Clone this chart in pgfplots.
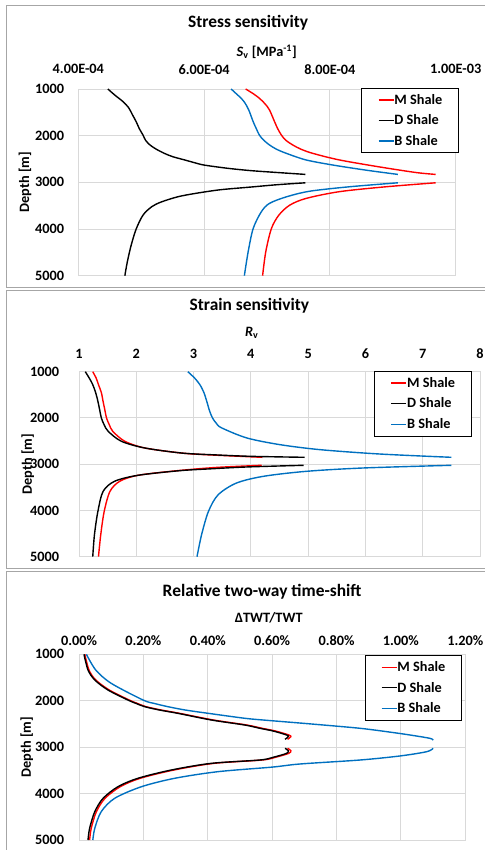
\documentclass[border=0pt]{standalone}
\usepackage{fontspec}
\setmainfont{Carlito}
\usepackage{pgfplots}
\pgfplotsset{compat=1.18}

\definecolor{mred}{RGB}{255,0,0}
\definecolor{bblue}{RGB}{0,112,192}
\definecolor{gridgray}{RGB}{217,217,217}
\definecolor{framegray}{RGB}{166,166,166}

\newcommand{\tfont}{\fontsize{14.3}{16}\selectfont\bfseries}
\newcommand{\hfont}{\fontsize{17.4}{20}\selectfont\bfseries}

\pgfplotsset{
  curve/.style={line width=1.4pt, smooth, tension=0.5},
  depthaxis/.style={
    scale only axis, anchor=north west,
    y dir=reverse, ymin=1000, ymax=5000, ytick={1000,2000,3000,4000,5000},
    xticklabel pos=top, major tick length=0pt,
    grid=major, grid style={gridgray, line width=0.9pt},
    axis line style={gridgray, line width=0.9pt},
    tick label style={font=\tfont},
    label style={font=\tfont},
    yticklabel style={anchor=east, inner sep=0pt},
    xticklabel style={anchor=center, inner sep=0pt},
    /pgf/number format/assume math mode=true,
    /pgf/number format/1000 sep={},
    scaled x ticks=false,
    ylabel={Depth [m]},
    legend cell align=left,
    legend style={draw=black, line width=0.9pt, fill=white, font=\tfont,
      anchor=north east, row sep=5pt, inner xsep=16pt, inner ysep=4pt,
      nodes={inner xsep=0pt}},
    legend image code/.code={\draw[#1, line width=1.4pt] (0pt,0pt) -- (15pt,0pt);},
  }
}

\begin{document}
\begin{tikzpicture}[x=1pt,y=1pt]
\useasboundingbox (0,0) rectangle (484,850);
% chart frames
\draw[framegray, line width=0.9pt] (6,845) rectangle (492,563);
\draw[framegray, line width=0.9pt] (6.5,560) rectangle (492,281.5);
\draw[framegray, line width=0.9pt] (6,278.5) rectangle (492,-4);

% ---- stress sensitivity
\begin{axis}[depthaxis,
  at={(78.3pt,761pt)}, width=377.4pt, height=186.7pt,
  xmin=4e-4, xmax=1e-3,
  xtick={4e-4,6e-4,8e-4,1e-3},
  xticklabels={4.00E-04,6.00E-04,8.00E-04,1.00E-03},
  xticklabel style={yshift=19.7pt},
  yticklabel style={xshift=-14pt},
  xlabel={\textit{S}\textsubscript{v} [MPa\textsuperscript{-1}]},
  xlabel style={at={(axis description cs:0.499,1.2)}, anchor=center},
  ylabel style={at={(axis description cs:-0.141,0.5)}, anchor=center},
  title={Stress sensitivity},
  title style={font=\hfont, at={(axis description cs:0.45,1.322)}, anchor=center},
  legend style={at={(1.008,1.007)}},
]
\addplot[mred, curve] coordinates {
  (6.66e-4,1000) (6.78e-4,1100) (6.88e-4,1200) (6.97e-4,1320) (7.04e-4,1450)
  (7.12e-4,1700) (7.17e-4,1850) (7.23e-4,1990) (7.30e-4,2100) (7.41e-4,2200)
  (7.54e-4,2290) (7.73e-4,2380) (8.15e-4,2520) (8.79e-4,2670) (9.37e-4,2790)
  (9.68e-4,2830)
};
\addlegendentry{M Shale}
\addplot[black, curve] coordinates {
  (4.47e-4,1000) (4.58e-4,1130) (4.71e-4,1270) (4.80e-4,1400) (4.86e-4,1550)
  (4.92e-4,1700) (4.97e-4,1850) (5.03e-4,1990) (5.07e-4,2100) (5.14e-4,2200)
  (5.24e-4,2290) (5.37e-4,2380) (5.50e-4,2450) (5.69e-4,2520) (5.85e-4,2580)
  (6.00e-4,2630) (6.38e-4,2700) (6.75e-4,2750) (7.17e-4,2790) (7.61e-4,2830)
};
\addlegendentry{D Shale}
\addplot[bblue, curve] coordinates {
  (6.43e-4,1000) (6.51e-4,1100) (6.59e-4,1200) (6.65e-4,1300) (6.71e-4,1450)
  (6.78e-4,1700) (6.83e-4,1850) (6.88e-4,1990) (6.95e-4,2100) (7.04e-4,2200)
  (7.15e-4,2290) (7.31e-4,2380) (7.62e-4,2520) (8.05e-4,2630) (8.58e-4,2740)
  (9.08e-4,2830)
};
\addlegendentry{B Shale}
\addplot[mred, curve, forget plot] coordinates {
  (9.68e-4,3010) (8.89e-4,3095) (8.15e-4,3200) (7.62e-4,3345) (7.36e-4,3490)
  (7.19e-4,3700) (7.07e-4,3990) (6.98e-4,4490) (6.93e-4,5000)
};
\addplot[black, curve, forget plot] coordinates {
  (7.61e-4,3010) (7.17e-4,3050) (6.75e-4,3100) (6.25e-4,3160) (5.85e-4,3240)
  (5.58e-4,3310) (5.32e-4,3420) (5.17e-4,3520) (5.03e-4,3700) (4.92e-4,4000)
  (4.84e-4,4350) (4.78e-4,4700) (4.74e-4,5000)
};
\addplot[bblue, curve, forget plot] coordinates {
  (9.08e-4,3010) (8.31e-4,3095) (7.68e-4,3190) (7.31e-4,3310) (7.04e-4,3450)
  (6.91e-4,3630) (6.78e-4,3990) (6.70e-4,4490) (6.64e-4,5000)
};
\end{axis}

% ---- strain sensitivity
\begin{axis}[depthaxis,
  at={(79pt,478.3pt)}, width=401pt, height=185pt,
  xmin=1, xmax=8, xtick={1,2,3,4,5,6,7,8},
  xticklabel style={yshift=18pt},
  yticklabel style={xshift=-19.7pt},
  xlabel={\textit{R}\textsubscript{v}},
  xlabel style={at={(axis description cs:0.431,1.21)}, anchor=center},
  ylabel style={at={(axis description cs:-0.128,0.5)}, anchor=center},
  title={Strain sensitivity},
  title style={font=\hfont, at={(axis description cs:0.425,1.322)}, anchor=center},
  legend style={at={(0.979,1.004)}},
]
\addplot[mred, curve] coordinates {
  (1.24,1000) (1.30,1140) (1.34,1280) (1.39,1450) (1.42,1640) (1.45,1820)
  (1.48,2000) (1.53,2150) (1.59,2290) (1.80,2505) (2.15,2650) (2.80,2760)
  (3.30,2800) (4.20,2851)
};
\addlegendentry{M Shale}
\addplot[black, curve] coordinates {
  (1.11,1000) (1.18,1140) (1.24,1280) (1.29,1450) (1.33,1640) (1.36,1820)
  (1.39,2000) (1.44,2150) (1.51,2290) (1.74,2505) (2.15,2650) (2.80,2760)
  (3.40,2800) (4.00,2830) (4.94,2851)
};
\addlegendentry{D Shale}
\addplot[bblue, curve] coordinates {
  (2.90,1000) (3.02,1140) (3.11,1280) (3.18,1450) (3.23,1640) (3.28,1850)
  (3.33,2000) (3.40,2120) (3.49,2215) (3.93,2433) (4.51,2578) (5.21,2686)
  (6.25,2780) (7.50,2851)
};
\addlegendentry{B Shale}
\addplot[mred, curve, forget plot] coordinates {
  (4.19,3024) (3.40,3070) (2.72,3140) (2.03,3240) (1.71,3370) (1.54,3590)
  (1.44,4020) (1.38,4520) (1.34,5000)
};
\addplot[black, curve, forget plot] coordinates {
  (4.92,3024) (3.93,3060) (3.30,3100) (2.76,3140) (2.03,3240) (1.62,3370)
  (1.42,3590) (1.33,4020) (1.27,4520) (1.24,5000)
};
\addplot[bblue, curve, forget plot] coordinates {
  (7.50,3024) (5.96,3082) (4.97,3154) (4.22,3262) (3.75,3407) (3.43,3660)
  (3.26,4020) (3.14,4524) (3.06,5000)
};
\end{axis}

% ---- relative two-way time-shift
\begin{axis}[depthaxis,
  at={(79pt,195.7pt)}, width=386.3pt, height=185.7pt,
  xmin=0, xmax=1.2, xtick={0,0.2,0.4,0.6,0.8,1.0,1.2},
  xticklabels={0.00\%,0.20\%,0.40\%,0.60\%,0.80\%,1.00\%,1.20\%},
  xticklabel style={yshift=13.6pt},
  yticklabel style={xshift=-14.7pt},
  xlabel={ΔTWT/TWT},
  xlabel style={at={(axis description cs:0.491,1.194)}, anchor=center},
  ylabel style={at={(axis description cs:-0.135,0.5)}, anchor=center},
  title={Relative two-way time-shift},
  title style={font=\hfont, at={(axis description cs:0.474,1.304)}, anchor=center},
  legend style={at={(0.991,0.996)}},
]
\addplot[mred, curve] coordinates {
  (0.018,1000) (0.031,1338) (0.052,1553) (0.094,1769) (0.156,1985) (0.182,2060)
  (0.208,2128) (0.255,2200) (0.312,2271) (0.417,2415) (0.521,2523) (0.569,2594)
  (0.610,2652) (0.652,2738) (0.658,2775) (0.648,2831)
};
\addlegendentry{M Shale}
\addplot[black, curve] coordinates {
  (0.0155,1000) (0.028,1338) (0.049,1553) (0.090,1769) (0.152,1985) (0.178,2060)
  (0.204,2128) (0.250,2200) (0.307,2271) (0.411,2415) (0.515,2523) (0.562,2594)
  (0.603,2652) (0.645,2738) (0.650,2775) (0.640,2831)
};
\addlegendentry{D Shale}
\addplot[bblue, curve] coordinates {
  (0.023,1000) (0.052,1338) (0.100,1625) (0.199,1985) (0.235,2060) (0.276,2128)
  (0.330,2200) (0.401,2271) (0.515,2378) (0.580,2420) (0.720,2500) (0.873,2594)
  (0.970,2680) (1.028,2738) (1.090,2810) (1.100,2850)
};
\addlegendentry{B Shale}
\addplot[mred, curve, forget plot] coordinates {
  (0.648,3025) (0.658,3076) (0.652,3133) (0.610,3219) (0.569,3277) (0.419,3349)
  (0.295,3492) (0.190,3671) (0.128,3852) (0.081,4101) (0.054,4390) (0.038,4748)
  (0.033,5000)
};
\addplot[black, curve, forget plot] coordinates {
  (0.640,3025) (0.650,3076) (0.645,3133) (0.603,3219) (0.562,3277) (0.411,3349)
  (0.287,3492) (0.183,3671) (0.121,3852) (0.075,4101) (0.049,4390) (0.033,4748)
  (0.028,5000)
};
\addplot[bblue, curve, forget plot] coordinates {
  (1.100,3025) (1.080,3098) (0.997,3190) (0.873,3277) (0.686,3363) (0.600,3430)
  (0.432,3528) (0.297,3671) (0.194,3852) (0.111,4101) (0.069,4390) (0.049,4748)
  (0.043,5000)
};
\end{axis}
\end{tikzpicture}
\end{document}
